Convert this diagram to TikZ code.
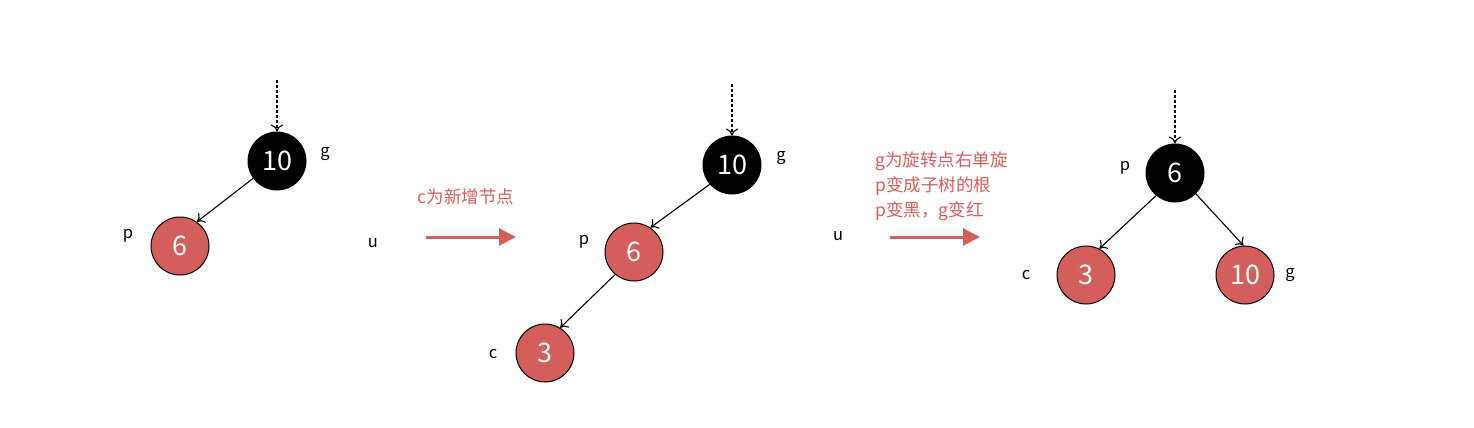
\documentclass[tikz,border=0pt]{standalone}
\usepackage{fontspec}
\setmainfont{Noto Sans CJK SC}
\usetikzlibrary{arrows.meta}
\definecolor{nred}{RGB}{212,94,90}
\tikzset{
  rb/.style={circle,draw=black,line width=1pt,minimum size=58pt,inner sep=0pt,text=white,font=\fontsize{27}{27}\selectfont},
  blk/.style={rb,fill=black},
  rdn/.style={rb,fill=nred},
  lbl/.style={font=\fontsize{16.5}{16.5}\selectfont,text=black},
  edge/.style={-{To[length=7pt,width=12pt]},line width=1.1pt},
  dedge/.style={edge,dash pattern=on 3pt off 2pt},
  bigarrow/.style={draw=nred,line width=3pt,-{Triangle[length=17pt,width=17pt]}},
  note/.style={font=\fontsize{17.5}{25}\selectfont,text=nred,align=left}
}
\begin{document}
\begin{tikzpicture}[x=1pt,y=-1pt]
\useasboundingbox (0,0) rectangle (1474,428);
% tree 1
\node[blk] (g1) at (277,161) {10};
\node[rdn] (p1) at (180,246) {6};
\coordinate (t1) at (277,80);
\draw[dedge] (t1) -- (g1);
\draw[edge] (g1.216) -- (p1.55);
\node[lbl] (lg1) at (325,154) {g};
\node[lbl] (lp1) at (128,236) {p};
\node[lbl] (lu1) at (373,243) {u};
% arrow 1
\coordinate (a1s) at (426,237);
\coordinate (a1e) at (516,237);
\draw[bigarrow] (a1s) -- (a1e);
\node[note] (n1) at (466,197) {c为新增节点};
% tree 2
\node[blk] (g2) at (732,165) {10};
\node[rdn] (p2) at (634,252) {6};
\node[rdn] (c2) at (545,353) {3};
\coordinate (t2) at (732,84);
\draw[dedge] (t2) -- (g2);
\draw[edge] (g2.221) -- (p2.56);
\draw[edge] (p2.230) -- (c2.59);
\node[lbl] (lg2) at (781,158) {g};
\node[lbl] (lp2) at (584,242) {p};
\node[lbl] (lc2) at (493,354) {c};
\node[lbl] (lu2) at (838,236) {u};
% arrow 2
\coordinate (a2s) at (890,237);
\coordinate (a2e) at (980,237);
\draw[bigarrow] (a2s) -- (a2e);
\node[note,anchor=west] (n2) at (872,186) {g为旋转点右单旋\\p变成子树的根\\p变黑，g变红};
% tree 3
\node[blk] (p3) at (1175,173) {6};
\node[rdn] (c3) at (1086,275) {3};
\node[rdn] (g3) at (1245,275) {10};
\coordinate (t3) at (1175,90);
\draw[dedge] (t3) -- (p3);
\draw[edge] (p3.230) -- (c3.63);
\draw[edge] (p3.-45) -- (g3.93);
\node[lbl] (lp3) at (1125,168) {p};
\node[lbl] (lc3) at (1026,275) {c};
\node[lbl] (lg3) at (1290,275) {g};
\end{tikzpicture}
\end{document}
